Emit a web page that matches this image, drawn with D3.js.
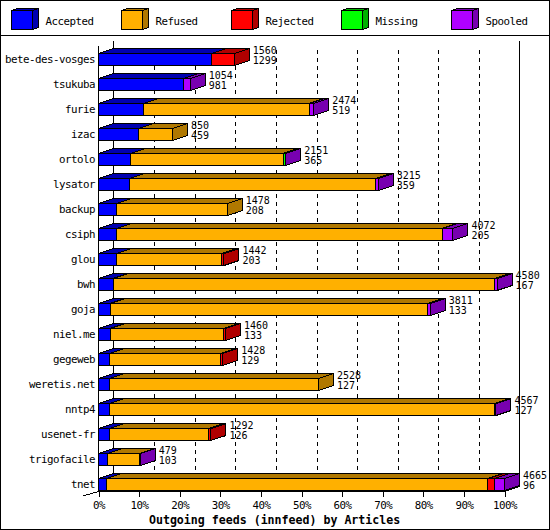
<!DOCTYPE html>
<html><head><meta charset="utf-8">
<script src="https://cdn.jsdelivr.net/npm/d3@7"></script>
<style>
html,body{margin:0;padding:0;background:#fff;}
svg{display:block;}
text{font-family:"DejaVu Sans Mono",monospace;font-size:10.8px;letter-spacing:-0.5px;fill:#000;}
text.val{font-size:10px;letter-spacing:0px;}
</style></head>
<body>
<svg id="chart" width="550" height="530"></svg>
<script>
// ---- data ----
const names = ["bete-des-vosges","tsukuba","furie","izac","ortolo","lysator","backup","csiph","glou","bwh","goja","niel.me","gegeweb","weretis.net","nntp4","usenet-fr","trigofacile","tnet"];
const totals   = [1560,1054,2474,850,2151,3215,1478,4072,1442,4580,3811,1460,1428,2528,4567,1292,479,4665];
const accepted = [1299,981,519,459,365,359,208,205,203,167,133,133,129,127,127,126,103,96];
const refused  = [0,0,1900,391,1756,2826,1270,3742,1214,4388,3648,1302,1274,2401,4422,1141,371,4379];
const rejected = [261,0,0,0,0,0,0,0,25,0,0,25,25,0,0,25,0,80];
const missing  = [0,0,0,0,25,0,0,0,0,0,0,0,0,0,0,0,0,0];
const spooled  = [0,73,55,0,5,30,0,125,0,25,30,0,0,0,18,0,5,110];
const seriesNames = ["Accepted","Refused","Rejected","Missing","Spooled"];
const seriesColors = ["#0000ff","#ffb000","#ff0000","#00ff00","#b000ff"];
const seriesDark   = ["#0000b0","#b07800","#b00000","#00b000","#7800b0"];
const tickValues = [0,10,20,30,40,50,60,70,80,90,100];
const title = "Outgoing feeds (innfeed) by Articles";

const series = [accepted, refused, rejected, missing, spooled];
const maxTotal = d3.max(totals);

const svg = d3.select("#chart");
const DX = 15, DY = -5;

// frame
svg.append("rect").attr("x",0.5).attr("y",0.5).attr("width",549).attr("height",529)
  .attr("fill","#fff").attr("stroke","#000").attr("shape-rendering","crispEdges");
svg.append("line").attr("x1",0).attr("x2",550).attr("y1",35.5).attr("y2",35.5)
  .attr("stroke","#000").attr("shape-rendering","crispEdges");

// legend
const lx = d3.scaleLinear().domain([0,4]).range([10.5,450.5]);
seriesNames.forEach((n,i)=>{
  const x = Math.round(lx(i))+0.5, y = 10.5, w = 21, h = 19, dx=6, dy=-2;
  const g = svg.append("g").attr("shape-rendering","crispEdges");
  g.append("polygon").attr("points",[[x,y],[x+dx,y+dy],[x+w+dx,y+dy],[x+w,y]].join(" "))
    .attr("fill",seriesDark[i]).attr("stroke","#000");
  g.append("polygon").attr("points",[[x+w,y],[x+w+dx,y+dy],[x+w+dx,y+h+dy],[x+w,y+h]].join(" "))
    .attr("fill",seriesDark[i]).attr("stroke","#000");
  g.append("rect").attr("x",x).attr("y",y).attr("width",w).attr("height",h)
    .attr("fill",seriesColors[i]).attr("stroke","#000");
  svg.append("text").attr("x",x+34).attr("y",24.5).text(n);
});

// scales
const xPct = d3.scaleLinear().domain([0,100]).range([98.5,504.5]);
const x = v => xPct(v/maxTotal*100);
const y = d3.scalePoint().domain(names).range([59.5,484.5]);
const floorY = 491.5, topY = 45.5;

// dashed gridlines on back wall
svg.append("g").selectAll("line").data(tickValues.slice(1,-1)).join("line")
  .attr("x1",d=>Math.round(xPct(d)+DX)+0.5).attr("x2",d=>Math.round(xPct(d)+DX)+0.5)
  .attr("y1",50).attr("y2",floorY+DY)
  .attr("stroke","#000").attr("stroke-dasharray","4,4").attr("shape-rendering","crispEdges");

// walls / axis lines
const wall = svg.append("g").attr("stroke","#000").attr("shape-rendering","crispEdges");
wall.append("line").attr("x1",113.5).attr("x2",113.5).attr("y1",topY+DY).attr("y2",floorY+DY);
wall.append("line").attr("x1",519.5).attr("x2",519.5).attr("y1",topY+DY).attr("y2",floorY+DY);
wall.append("line").attr("x1",98.5).attr("x2",98.5).attr("y1",topY).attr("y2",floorY);
wall.append("line").attr("x1",98.5).attr("x2",504.5).attr("y1",floorY).attr("y2",floorY);
wall.append("line").attr("x1",504.5).attr("x2",519.5).attr("y1",floorY).attr("y2",floorY+DY);
wall.append("line").attr("x1",83).attr("x2",98.5).attr("y1",496).attr("y2",floorY);

// bottom axis
const axis = d3.axisBottom(xPct).tickValues(tickValues).tickFormat(d=>d+"%").tickSize(5).tickSizeOuter(0);
const ax = svg.append("g").attr("transform",`translate(0,${floorY})`).call(axis);
ax.select(".domain").remove();
ax.selectAll(".tick line").attr("stroke","#000").attr("shape-rendering","crispEdges");
ax.selectAll(".tick text").attr("y",17.5).attr("dy",null)
  .style("font-family",'"DejaVu Sans Mono",monospace').style("font-size","10.8px").attr("fill","#000");

// bars
names.forEach((name,r)=>{
  const c = y(name);
  const top = c-6, bot = c+6;
  const g = svg.append("g").attr("shape-rendering","crispEdges").attr("stroke","#000");
  let cum = 0, last = -1;
  const segs = [];
  series.forEach((s,k)=>{
    const v = s[r];
    if (v>0){ segs.push({k, x0:x(cum), x1:x(cum+v)}); last = k; }
    cum += v;
  });
  segs.forEach(sg=>{
    g.append("polygon").attr("points",[[sg.x0,top],[sg.x0+DX,top+DY],[sg.x1+DX,top+DY],[sg.x1,top]].join(" "))
      .attr("fill",seriesDark[sg.k]);
  });
  const endX = x(cum);
  g.append("polygon").attr("points",[[endX,top],[endX+DX,top+DY],[endX+DX,bot+DY],[endX,bot]].join(" "))
    .attr("fill",seriesDark[last]);
  segs.forEach(sg=>{
    g.append("rect").attr("x",sg.x0).attr("y",top).attr("width",Math.max(0,sg.x1-sg.x0)).attr("height",bot-top)
      .attr("fill",seriesColors[sg.k]);
  });
  // row label
  svg.append("text").attr("x",95).attr("y",c+3.8).attr("text-anchor","end").text(name);
  // value labels
  svg.append("text").attr("class","val").attr("x",endX+18.5).attr("y",c-5.9).text(totals[r]);
  svg.append("text").attr("class","val").attr("x",endX+18.5).attr("y",c+4.8).text(accepted[r]);
});

// title
svg.append("text").attr("x",274.6).attr("y",523.5).attr("text-anchor","middle")
  .style("font-weight","bold").style("font-size","11.6px").style("letter-spacing","0px").text(title);
</script>
</body></html>
